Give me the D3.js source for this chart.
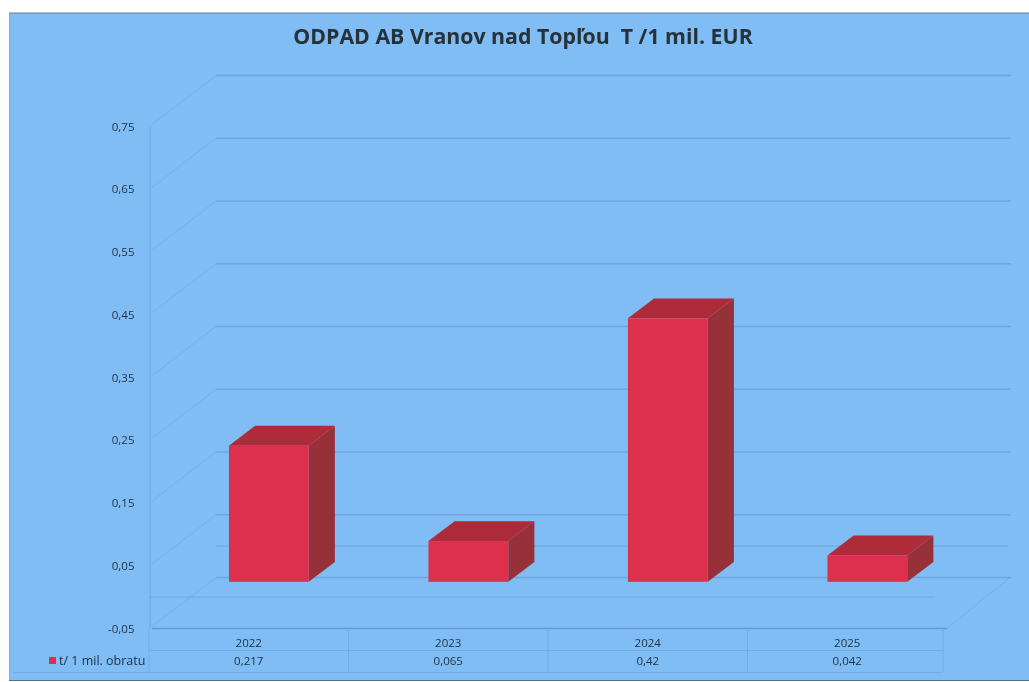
<!DOCTYPE html>
<html><head><meta charset="utf-8">
<script src="https://cdn.jsdelivr.net/npm/d3@7/dist/d3.min.js"></script>
<style>html,body{margin:0;padding:0;background:#fff;overflow:hidden}svg{display:block;filter:blur(0.45px)}text{font-family:"Open Sans",sans-serif}</style>
</head><body><svg id="c" width="1029" height="682"></svg>
<script>
const title = "ODPAD AB Vranov nad Topľou  T /1 mil. EUR";
const years = ["2022","2023","2024","2025"];
const values = [0.217,0.065,0.42,0.042];
const valueLabels = ["0,217","0,065","0,42","0,042"];
const ticks = [-0.05,0.05,0.15,0.25,0.35,0.45,0.55,0.65,0.75];
const seriesName = "t/ 1 mil. obratu";

const svg = d3.select("#c");
const y = d3.scaleLinear().domain([-0.05,0.75]).range([628.5,126.5]);
const x = d3.scaleBand().domain(years).range([149,947]);
const depthX = 67, depthY = -51;
const barFront = 0.3, barBack = 0.69, barW = 0.4;
const grid = "#6f9cd6";

svg.append("rect").attr("x",9).attr("y",13).attr("width",1020).attr("height",667).attr("fill","#7fbdf4");
svg.append("line").attr("x1",9).attr("x2",1029).attr("y1",13).attr("y2",13).attr("stroke","#5f7f9c").attr("stroke-width",1);
svg.append("line").attr("x1",9).attr("x2",1029).attr("y1",680.5).attr("y2",680.5).attr("stroke","#54708c").attr("stroke-width",1);
svg.append("line").attr("x1",9.5).attr("x2",9.5).attr("y1",13).attr("y2",680).attr("stroke","#8aaccb");

// back wall gridlines and side-wall diagonals
const g = svg.append("g");
g.selectAll(".b").data(ticks).join("line")
  .attr("x1",149+depthX).attr("x2",947+depthX+ -3)
  .attr("y1",d=>y(d)+depthY).attr("y2",d=>y(d)+depthY)
  .attr("stroke",grid).attr("stroke-width",1.3).attr("stroke-opacity",.75);
g.selectAll(".d").data(ticks).join("line")
  .attr("x1",152).attr("x2",149+depthX)
  .attr("y1",d=>y(d)-2).attr("y2",d=>y(d)+depthY)
  .attr("stroke",grid).attr("stroke-opacity",.4);
// floor at zero
g.append("line").attr("x1",150).attr("x2",935).attr("y1",y(0)).attr("y2",y(0)).attr("stroke",grid).attr("stroke-opacity",.7);
g.append("line").attr("x1",216).attr("x2",1008).attr("y1",y(0)+depthY).attr("y2",y(0)+depthY).attr("stroke",grid).attr("stroke-opacity",.8);
// front base and floor corner
g.append("line").attr("x1",152).attr("x2",947).attr("y1",y(-0.05)).attr("y2",y(-0.05)).attr("stroke","#6491cc").attr("stroke-width",1.5).attr("stroke-opacity",.85);
g.append("line").attr("x1",947).attr("x2",1010).attr("y1",y(-0.05)).attr("y2",y(-0.05)+depthY).attr("stroke",grid).attr("stroke-opacity",.4);

// value axis
const axis = d3.axisLeft(y).tickValues(ticks).tickSize(0).tickPadding(15)
  .tickFormat(d=>d.toFixed(2).replace(".",","));
const ax = svg.append("g").attr("transform","translate(149.5,0)").call(axis);
ax.select(".domain").attr("stroke","#6e9dd6").attr("stroke-opacity",.7);
ax.selectAll("text").attr("font-size",11.5).attr("fill","#1f2f40");

// 3D bars
const bars = svg.append("g").selectAll("g").data(years.map((k,i)=>({k,v:values[i]}))).join("g");
function pts(d){
  const w = x.bandwidth()*barW, c = x(d.k)+x.bandwidth()/2;
  const fx = c-w/2+barFront*depthX, fb = y(0)+barFront*depthY;
  const dx = (barBack-barFront)*depthX, dy = (barBack-barFront)*depthY;
  const h = y(0)-y(d.v);
  return {fx,fb,w,dx,dy,h};
}
bars.append("path").attr("fill","#963039").attr("d",d=>{const p=pts(d);
  return `M${p.fx+p.w},${p.fb}L${p.fx+p.w},${p.fb-p.h}L${p.fx+p.w+p.dx},${p.fb-p.h+p.dy}L${p.fx+p.w+p.dx},${p.fb+p.dy}Z`;});
bars.append("path").attr("fill","#ae2c39").attr("d",d=>{const p=pts(d);
  return `M${p.fx},${p.fb-p.h}L${p.fx+p.w},${p.fb-p.h}L${p.fx+p.w+p.dx},${p.fb-p.h+p.dy}L${p.fx+p.dx},${p.fb-p.h+p.dy}Z`;});
bars.append("rect").attr("fill","#dd304e")
  .attr("x",d=>pts(d).fx).attr("y",d=>pts(d).fb-pts(d).h)
  .attr("width",d=>pts(d).w).attr("height",d=>pts(d).h);

// data table
const tb = svg.append("g").attr("stroke-opacity",.55);
const tc = "#6f9fd8";
[650.5,672.5].forEach(v=>tb.append("line").attr("x1",v>660?14:150).attr("x2",943).attr("y1",v).attr("y2",v).attr("stroke",tc));
[...years.map(k=>x(k)),943].forEach(v=>tb.append("line").attr("x1",v).attr("x2",v).attr("y1",630).attr("y2",672).attr("stroke",tc));
tb.selectAll(".yr").data(years).join("text").attr("x",d=>x(d)+x.bandwidth()/2).attr("y",647)
  .attr("text-anchor","middle").attr("font-size",11.5).attr("fill","#1f2f40").text(d=>d);
tb.selectAll(".vl").data(valueLabels).join("text").attr("x",(d,i)=>x(years[i])+x.bandwidth()/2).attr("y",665)
  .attr("text-anchor","middle").attr("font-size",11.5).attr("fill","#1f2f40").text(d=>d);
tb.append("rect").attr("x",49).attr("y",657).attr("width",7).attr("height",7).attr("fill","#dd304e");
tb.append("text").attr("x",59).attr("y",665).attr("font-size",12.5).attr("fill","#1f2f40").text(seriesName);

svg.append("text").attr("x",523).attr("y",44).attr("text-anchor","middle").attr("xml:space","preserve")
  .style("white-space","pre").attr("font-size",21.3).attr("font-weight",700).attr("fill","#263238").text(title);
</script></body></html>
